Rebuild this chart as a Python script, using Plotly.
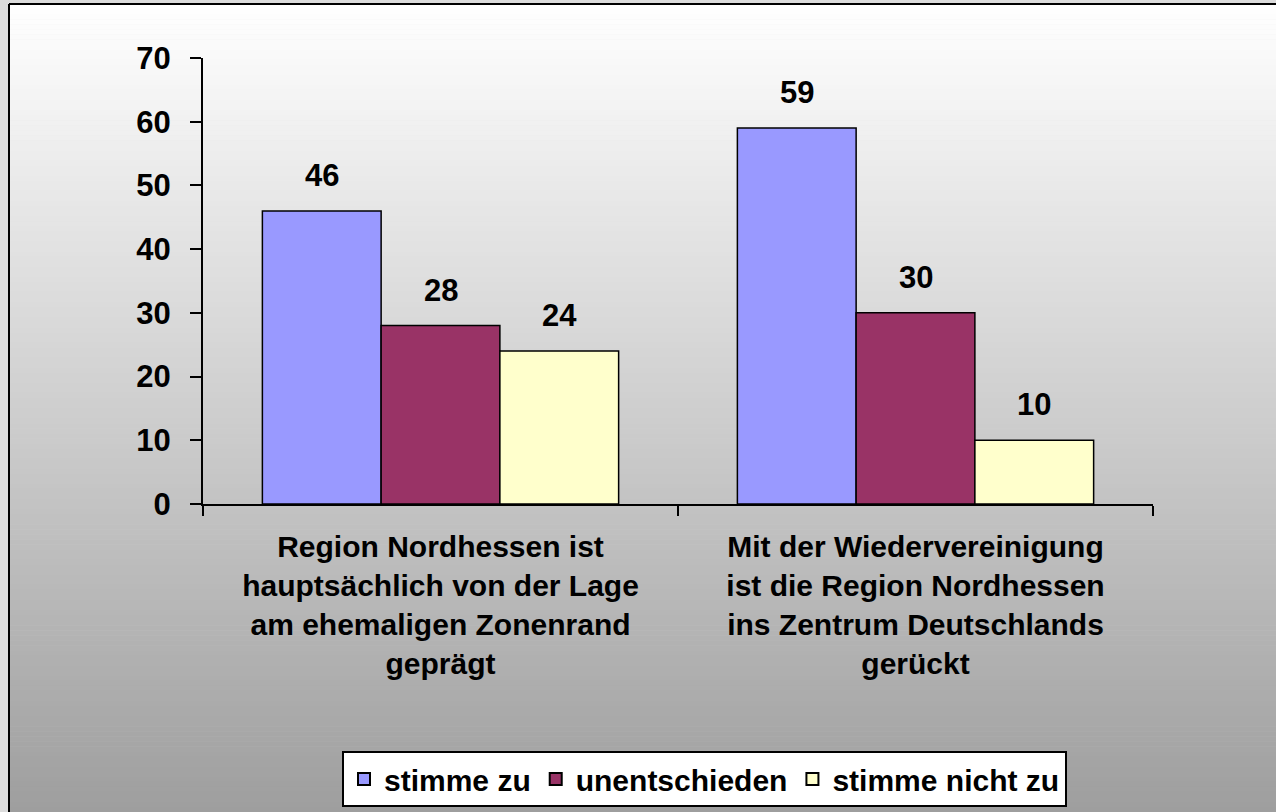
import plotly.graph_objects as go

categories = [
    "Region Nordhessen ist<br>hauptsächlich von der Lage<br>am ehemaligen Zonenrand<br>geprägt",
    "Mit der Wiedervereinigung<br>ist die Region Nordhessen<br>ins Zentrum Deutschlands<br>gerückt",
]
series_names = ["stimme zu", "unentschieden", "stimme nicht zu"]
stimme_zu = [46, 59]
unentschieden = [28, 30]
stimme_nicht_zu = [24, 10]
series_values = [stimme_zu, unentschieden, stimme_nicht_zu]
colors = ["#9999FF", "#993366", "#FFFFCC"]
y_ticks = [0, 10, 20, 30, 40, 50, 60, 70]

W, H = 1276, 812
FONT = "Liberation Sans, Arial, sans-serif"

# plot area in pixels
x0px, x1px = 203, 1153
ytop, ybot = 58, 504

fig = go.Figure()
for name, vals, col in zip(series_names, series_values, colors):
    fig.add_trace(go.Bar(
        name=name, x=categories, y=vals,
        marker=dict(color=col, line=dict(color="black", width=1.5)),
    ))

# background gradient (white at top to gray at bottom) as thin bands
shapes = []
n = 160
top_px, bot_px = 4, H
for i in range(n):
    y_a = top_px + (bot_px - top_px) * i / n
    y_b = top_px + (bot_px - top_px) * (i + 1) / n + 0.5
    t = (i + 0.5) / n
    g = int(round(255 - (255 - 158) * t))
    shapes.append(dict(
        type="rect", xref="paper", yref="paper", layer="below",
        x0=9 / W, x1=1, y0=1 - y_b / H, y1=1 - y_a / H,
        fillcolor=f"rgb({g},{g},{g})", line=dict(width=0),
    ))
# frame lines (top and left)
shapes.append(dict(type="line", xref="paper", yref="paper", layer="below",
                   x0=9 / W, x1=1, y0=1 - 4 / H, y1=1 - 4 / H,
                   line=dict(color="black", width=2)))
shapes.append(dict(type="line", xref="paper", yref="paper", layer="below",
                   x0=9 / W, x1=9 / W, y0=0, y1=1 - 4 / H,
                   line=dict(color="black", width=2)))

# value labels above bars
cat_w = (x1px - x0px) / len(categories)
bar_w = cat_w * 0.75 / len(series_names)
annotations = []
for i, vals in enumerate(series_values):
    for j, v in enumerate(vals):
        annotations.append(dict(
            x=categories[j], y=v, xref="x", yref="y",
            text=str(v), showarrow=False,
            xshift=(i - 1) * bar_w, yshift=16, yanchor="bottom",
            font=dict(family=FONT, size=31, color="black", weight="bold"),
        ))

fig.update_layout(
    width=W, height=H,
    margin=dict(l=0, r=0, t=0, b=0, pad=0, autoexpand=False),
    paper_bgcolor="#dcdcdc",
    plot_bgcolor="rgba(0,0,0,0)",
    barmode="group", bargap=0.25, bargroupgap=0,
    shapes=shapes, annotations=annotations,
    font=dict(family=FONT, size=30, color="black", weight="bold"),
    showlegend=True,
    legend=dict(
        orientation="h", x=704.5 / W, xanchor="center",
        y=5 / H, yanchor="bottom",
        bgcolor="white", bordercolor="black", borderwidth=2,
        font=dict(family=FONT, size=30, color="black", weight="bold"),
        itemsizing="constant",
    ),
    xaxis=dict(
        domain=[x0px / W, x1px / W], automargin=False,
        showline=True, linecolor="black", linewidth=2,
        ticks="outside", tickson="boundaries", ticklen=10, tickwidth=2,
        tickcolor="black", showgrid=False, zeroline=False,
        tickfont=dict(family=FONT, size=30, color="black", weight="bold"),
        ticklabelstandoff=15,
    ),
    yaxis=dict(
        domain=[1 - ybot / H, 1 - ytop / H], automargin=False,
        range=[0, 70], tickvals=y_ticks,
        showline=True, linecolor="black", linewidth=2,
        ticks="outside", ticklen=11, tickwidth=2, tickcolor="black",
        showgrid=False, zeroline=False,
        tickfont=dict(family=FONT, size=31, color="black", weight="bold"),
        ticklabelstandoff=13,
    ),
)

fig.write_html(
    "out.html",
    config={"displayModeBar": False},
    post_script="document.body.style.margin='0';document.body.style.overflow='hidden';",
)
